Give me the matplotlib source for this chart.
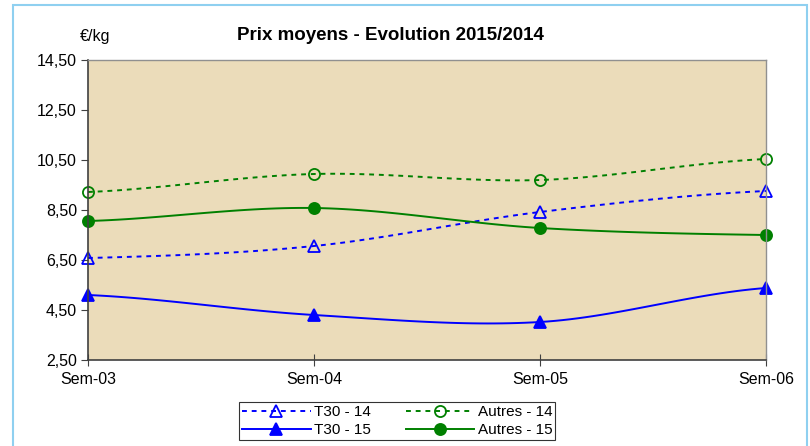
import numpy as np
import matplotlib.pyplot as plt
from matplotlib.patches import Rectangle

plt.rcParams['font.family'] = ['Liberation Sans', 'DejaVu Sans']

weeks = ["Sem-03", "Sem-04", "Sem-05", "Sem-06"]
t30_14 = [6.58, 7.06, 8.42, 9.26]
autres_14 = [9.22, 9.94, 9.70, 10.54]
t30_15 = [5.10, 4.30, 4.02, 5.38]
autres_15 = [8.06, 8.58, 7.78, 7.50]
yticks = [2.5, 4.5, 6.5, 8.5, 10.5, 12.5, 14.5]


def smooth(y, n=30):
    # Excel-like smoothed line (Catmull-Rom through the data points)
    y = np.asarray(y, float)
    p = np.concatenate([[y[0]], y, [y[-1]]])
    xs, ys = [], []
    for i in range(len(y) - 1):
        p0, p1, p2, p3 = p[i], p[i + 1], p[i + 2], p[i + 3]
        t = np.linspace(0, 1, n, endpoint=False)
        v = 0.5 * ((2 * p1) + (-p0 + p2) * t + (2 * p0 - 5 * p1 + 4 * p2 - p3) * t**2
                   + (-p0 + 3 * p1 - 3 * p2 + p3) * t**3)
        xs.append(i + t)
        ys.append(v)
    xs.append([len(y) - 1])
    ys.append([y[-1]])
    return np.concatenate(xs), np.concatenate(ys)


fig = plt.figure(figsize=(8.1, 4.46), dpi=100)
fig.patches.append(Rectangle((13 / 810, -0.01), 794 / 810, 1 - 5 / 446 + 0.01,
                             transform=fig.transFigure, fill=False,
                             edgecolor="#8fd0f0", linewidth=1.5))

ax = fig.add_axes([88 / 810, 1 - 360 / 446, (766 - 88) / 810, 300 / 446])
ax.set_facecolor("#ebdcba")

x = np.arange(len(weeks))
dash = (0, (2.5, 2.5))
series = [
    (t30_14, "T30 - 14", "blue", dash, "^", "none"),
    (autres_14, "Autres - 14", "green", dash, "o", "none"),
    (t30_15, "T30 - 15", "blue", "-", "^", "blue"),
    (autres_15, "Autres - 15", "green", "-", "o", "green"),
]
handles = []
for vals, lab, col, ls, mk, fc in series:
    sx, sy = smooth(vals)
    ax.plot(sx, sy, color=col, linestyle=ls, linewidth=1.4, clip_on=False)
    ax.plot(x, vals, linestyle="none", marker=mk, markersize=8,
            markerfacecolor=fc, markeredgecolor=col, markeredgewidth=1.3, clip_on=False)
    h, = ax.plot([], [], color=col, linestyle=ls, linewidth=1.4, marker=mk,
                 markersize=8, markerfacecolor=fc, markeredgecolor=col,
                 markeredgewidth=1.3, label=lab)
    handles.append(h)

ax.set_xlim(0, 3)
ax.set_ylim(2.5, 14.5)
ax.set_xticks(x)
ax.set_xticklabels(weeks, fontsize=11.5)
ax.set_yticks(yticks)
ax.set_yticklabels([f"{v:.2f}".replace(".", ",") for v in yticks], fontsize=11.5)
ax.tick_params(axis="y", direction="out", length=5, color="#404040", pad=3)
ax.tick_params(axis="x", direction="inout", length=9, color="#404040", pad=4)
for side in ["left", "bottom"]:
    ax.spines[side].set_color("#404040")
    ax.spines[side].set_linewidth(1.2)
for side in ["top", "right"]:
    ax.spines[side].set_color("#909090")
    ax.spines[side].set_linewidth(1.0)

fig.text(390 / 810, 1 - 36 / 446, "Prix moyens - Evolution 2015/2014",
         ha="center", va="center", fontsize=13.5, fontweight="bold")
fig.text(80 / 810, 1 - 37 / 446, "€/kg", ha="left", va="center", fontsize=11.5)

leg = fig.legend(handles=[handles[0], handles[2], handles[1], handles[3]],
                 ncol=2, loc="center", bbox_to_anchor=(397 / 810, 1 - 421 / 446),
                 fontsize=11, frameon=True, fancybox=False, handlelength=4.5,
                 borderpad=0.2, labelspacing=0.25, columnspacing=2.3,
                 handletextpad=0.2, borderaxespad=0)
leg.get_frame().set_edgecolor("black")
leg.get_frame().set_linewidth(0.8)

fig.savefig("out.png", dpi=100)
